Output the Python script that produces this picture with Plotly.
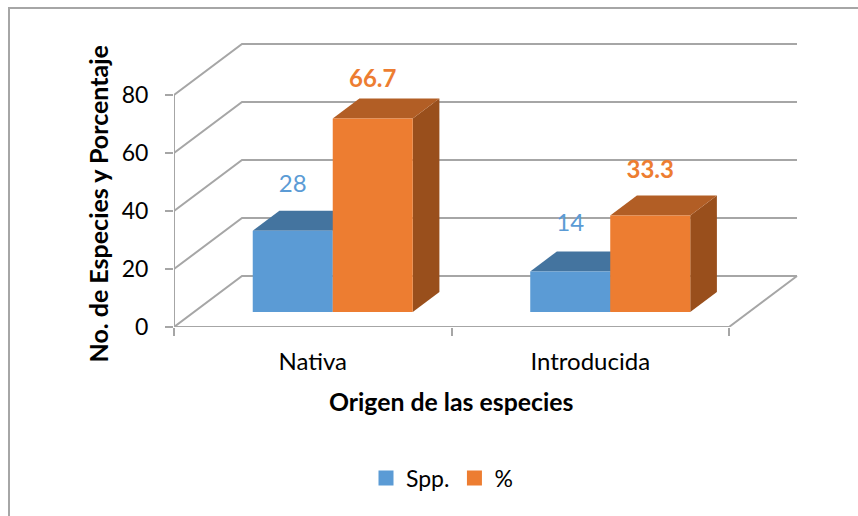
import plotly.graph_objects as go

categories = ["Nativa", "Introducida"]
series_names = ["Spp.", "%"]
spp_values = [28, 14]
pct_values = [66.7, 33.3]
label_spp = ["28", "14"]
label_pct = ["66.7", "33.3"]
y_ticks = [0, 20, 40, 60, 80]

BLUE, BLUE_TOP = "#5B9BD5", "#44749F"
ORANGE, ORANGE_TOP, ORANGE_SIDE = "#ED7D31", "#B25E25", "#994F1C"
GRID = "#A6A6A6"
FONT = "Lato"

# page geometry (px)
W, H = 858, 516
L, FRONT_R, BACK_R, T, B_EDGE = 174, 729, 800, 40, 327
PX_X = (FRONT_R - L) / 2     # px per category
PX_Y = 2.9                   # px per value unit
DX, DY = 68, 51              # oblique depth of the chart box
D0, D1 = 0.294, 0.686        # depth of bar front / back
BAR_W = 80 / PX_X


def proj(c, v, d):
    """category-coordinate, value, depth(0..1) -> axis coordinates"""
    return c + d * DX / PX_X, v + d * DY / PX_Y


def poly(pts):
    xy = [proj(*p) for p in pts]
    return [p[0] for p in xy], [p[1] for p in xy]


def line_trace(pts):
    x, y = poly(pts)
    return go.Scatter(x=x, y=y, mode="lines", line=dict(color=GRID, width=2),
                      hoverinfo="skip", showlegend=False, cliponaxis=False)


def face(pts, color):
    x, y = poly(pts)
    x.append(x[0]); y.append(y[0])
    return go.Scatter(x=x, y=y, mode="lines", fill="toself", fillcolor=color,
                      line=dict(width=0, color=color), hoverinfo="skip",
                      showlegend=False, cliponaxis=False)


fig = go.Figure()

# walls and floor
for v in y_ticks:
    fig.add_trace(line_trace([(0, v, 0), (0, v, 1), (2, v, 1)]))
fig.add_trace(line_trace([(0, y_ticks[-1], 0), (0, 0, 0), (2, 0, 0), (2, 0, 1)]))


def box(c0, c1, v, front, top, side):
    fig.add_trace(face([(c1, 0, D0), (c1, 0, D1), (c1, v, D1), (c1, v, D0)], side))
    fig.add_trace(face([(c0, v, D0), (c1, v, D0), (c1, v, D1), (c0, v, D1)], top))
    fig.add_trace(face([(c0, 0, D0), (c1, 0, D0), (c1, v, D0), (c0, v, D0)], front))


for i in range(len(categories)):
    centre = i + 0.5
    box(centre - BAR_W, centre, spp_values[i], BLUE, BLUE_TOP, BLUE_TOP)
    box(centre, centre + BAR_W, pct_values[i], ORANGE, ORANGE_TOP, ORANGE_SIDE)

# data labels
spp_lift = [25, 26]
pct_lift = [18, 23]
for i in range(len(categories)):
    centre = i + 0.5
    for vals, labels, lift, c, color, weight in (
        (spp_values, label_spp, spp_lift, centre - BAR_W / 2, BLUE, "normal"),
        (pct_values, label_pct, pct_lift, centre + BAR_W / 2, ORANGE, "bold"),
    ):
        x, y = proj(c, vals[i], D1)
        fig.add_trace(go.Scatter(
            x=[x - (DX * (D1 - D0)) / PX_X], y=[y + lift[i] / PX_Y], mode="text",
            text=[labels[i]], textposition="middle center", cliponaxis=False,
            textfont=dict(family=FONT, size=24, color=color, weight=weight),
            hoverinfo="skip", showlegend=False))

# legend entries
for name, color in zip(series_names, (BLUE, ORANGE)):
    fig.add_trace(go.Scatter(x=[None], y=[None], mode="markers", name=name,
                             marker=dict(symbol="square", size=15, color=color)))

x_frac = lambda px: (px - L) / (BACK_R - L)
y_frac = lambda py: (B_EDGE - py) / (B_EDGE - T)

fig.update_layout(
    width=W, height=H, autosize=False,
    margin=dict(l=L, r=W - BACK_R, t=T, b=H - B_EDGE, pad=0),
    paper_bgcolor="white", plot_bgcolor="rgba(0,0,0,0)",
    font=dict(family=FONT, color="#000000", size=23),
    xaxis=dict(range=[0, (BACK_R - L) / PX_X], tickmode="array", tickvals=[0.5, 1.5],
               ticktext=categories, ticks="", showgrid=False, zeroline=False,
               showline=False, ticklabelstandoff=18, tickfont=dict(size=24),
               minor=dict(tickmode="array", tickvals=[0, 1, 2], ticks="outside",
                          ticklen=8, tickwidth=2, tickcolor=GRID, showgrid=False)),
    yaxis=dict(range=[0, (B_EDGE - T) / PX_Y], tickmode="array", tickvals=y_ticks,
               ticks="outside", ticklen=8, tickwidth=2, tickcolor=GRID,
               showgrid=False, zeroline=False, showline=False,
               ticklabelstandoff=12, tickfont=dict(size=23)),
    legend=dict(orientation="h", x=x_frac(442), xanchor="center", y=y_frac(478),
                yanchor="middle", font=dict(size=23),
                bgcolor="rgba(0,0,0,0)"),
    annotations=[
        dict(text="<b>Origen de las especies</b>", xref="paper", yref="paper",
             x=x_frac(451), y=y_frac(401), xanchor="center", yanchor="middle",
             showarrow=False, font=dict(size=24.8)),
        dict(text="<b>No. de Especies y Porcentaje</b>", xref="paper", yref="paper",
             x=x_frac(97), y=y_frac(204.5), xanchor="center", yanchor="middle",
             textangle=-90, showarrow=False, font=dict(size=25)),
    ],
    shapes=[dict(type="rect", xref="paper", yref="paper",
                 x0=x_frac(9), x1=x_frac(880), y0=y_frac(8), y1=y_frac(540),
                 line=dict(color="#A6A6A6", width=2), layer="below")],
)

fig.write_html("out.html", config=dict(displayModeBar=False),
               post_script="document.body.style.margin='0';")
